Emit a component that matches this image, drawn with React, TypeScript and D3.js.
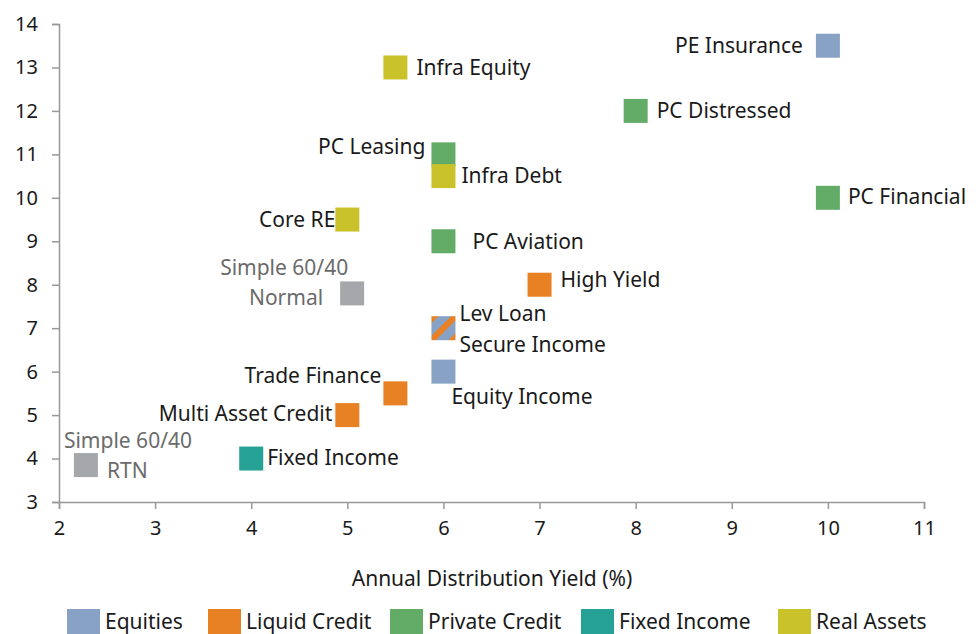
import { useEffect, useRef } from 'react';
import * as d3 from 'd3';

const categories = ['Equities', 'Liquid Credit', 'Private Credit', 'Fixed Income', 'Real Assets'];
const categoryColors = ['#87a2c4', '#e88024', '#63ac67', '#26a196', '#c9c22a'];
const benchmarkColor = '#a6a7aa';

const assetNames = [
  'PE Insurance', 'Infra Equity', 'PC Distressed', 'PC Leasing', 'Infra Debt', 'PC Financial',
  'Core RE', 'PC Aviation', 'High Yield', 'Lev Loan', 'Equity Income', 'Trade Finance',
  'Multi Asset Credit', 'Fixed Income',
];
const assetYield = [10, 5.5, 8, 6, 6, 10, 5, 6, 7, 6, 6, 5.5, 5, 4];
const assetReturn = [13.5, 13, 12, 11, 10.5, 10, 9.5, 9, 8, 7, 6, 5.5, 5, 4];
const assetCategory = [
  'Equities', 'Real Assets', 'Private Credit', 'Private Credit', 'Real Assets', 'Private Credit',
  'Real Assets', 'Private Credit', 'Liquid Credit', 'Liquid Credit', 'Equities', 'Liquid Credit',
  'Liquid Credit', 'Fixed Income',
];

const benchmarkNames = ['Simple 60/40 Normal', 'Simple 60/40 RTN'];
const benchmarkYield = [5.05, 2.28];
const benchmarkReturn = [7.8, 3.85];

const xTicks = [2, 3, 4, 5, 6, 7, 8, 9, 10, 11];
const yTicks = [3, 4, 5, 6, 7, 8, 9, 10, 11, 12, 13, 14];

// label placement relative to the marker centre: [dx, dy, anchor, line]
const labelLayout: Record<string, [number, number, string, string?][]> = {
  'PE Insurance': [[-25, 0, 'end']],
  'Infra Equity': [[21, 0, 'start']],
  'PC Distressed': [[21, 0, 'start']],
  'PC Leasing': [[-18, -8, 'end']],
  'Infra Debt': [[18, 0, 'start']],
  'PC Financial': [[20, -1, 'start']],
  'Core RE': [[-12, 0, 'end']],
  'PC Aviation': [[29, 0, 'start']],
  'High Yield': [[21, -5, 'start']],
  'Lev Loan': [[16, -15, 'start'], [16, 16, 'start', 'Secure Income']],
  'Equity Income': [[8, 25, 'start']],
  'Trade Finance': [[-14, -18, 'end']],
  'Multi Asset Credit': [[-15, -1, 'end']],
  'Fixed Income': [[16, -1, 'start']],
  'Simple 60/40 Normal': [[-132, -26, 'start', 'Simple 60/40'], [-29, 4, 'end', 'Normal']],
  'Simple 60/40 RTN': [[-22, -24, 'start', 'Simple 60/40'], [21, 6, 'start', 'RTN']],
};

const FONT = '"Noto Sans", sans-serif';
const FS = '21px';

export default function App() {
  const svgRef = useRef<SVGSVGElement>(null);
  const width = 976;
  const height = 634;

  useEffect(() => {
    if (!svgRef.current) return;
    const svg = d3.select(svgRef.current);
    svg.selectAll('*').remove();

    const x = d3.scaleLinear().domain([2, 11]).range([59, 924]);
    const y = d3.scaleLinear().domain([3, 14]).range([502, 24]);
    const color = d3.scaleOrdinal<string, string>().domain(categories).range(categoryColors);
    const size = 24;

    const defs = svg.append('defs');
    const pat = defs
      .append('pattern')
      .attr('id', 'levloan')
      .attr('patternUnits', 'userSpaceOnUse')
      .attr('width', 15)
      .attr('height', 15)
      .attr('patternTransform', `translate(${x(6)},${y(7)}) rotate(45)`);
    pat.append('rect').attr('width', 15).attr('height', 15).attr('fill', color('Equities'));
    pat.append('rect').attr('x', -3).attr('width', 6).attr('height', 15).attr('fill', color('Liquid Credit'));
    pat.append('rect').attr('x', 12).attr('width', 6).attr('height', 15).attr('fill', color('Liquid Credit'));

    // axes
    const xAxis = svg
      .append('g')
      .attr('transform', `translate(0,${y(3)})`)
      .call(d3.axisBottom(x).tickValues(xTicks).tickSize(7).tickPadding(12));
    const yAxis = svg
      .append('g')
      .attr('transform', `translate(${x(2)},0)`)
      .call(d3.axisLeft(y).tickValues(yTicks).tickSize(7).tickPadding(14));
    [xAxis, yAxis].forEach((a) => {
      a.selectAll('path, line').attr('stroke', '#999').attr('stroke-width', 1.5);
      a.selectAll('text')
        .attr('fill', '#1a1a1a')
        .style('font-family', FONT)
        .style('font-size', '20px');
    });

    svg
      .append('text')
      .attr('x', 492)
      .attr('y', 586)
      .attr('text-anchor', 'middle')
      .attr('fill', '#1a1a1a')
      .style('font-family', FONT)
      .style('font-size', FS)
      .text('Annual Distribution Yield (%)');

    const points = [
      ...assetNames.map((name, i) => ({
        name,
        x: assetYield[i],
        y: assetReturn[i],
        fill: name === 'Lev Loan' ? 'url(#levloan)' : color(assetCategory[i]),
        benchmark: false,
      })),
      ...benchmarkNames.map((name, i) => ({
        name,
        x: benchmarkYield[i],
        y: benchmarkReturn[i],
        fill: benchmarkColor,
        benchmark: true,
      })),
    ];

    svg
      .append('g')
      .selectAll('rect')
      .data(points)
      .enter()
      .append('rect')
      .attr('x', (d) => x(d.x) - size / 2)
      .attr('y', (d) => y(d.y) - size / 2)
      .attr('width', size)
      .attr('height', size)
      .attr('fill', (d) => d.fill);

    const labels = points.flatMap((d) =>
      (labelLayout[d.name] || []).map(([dx, dy, anchor, text]) => ({
        x: x(d.x) + dx,
        y: y(d.y) + dy,
        anchor,
        text: text || d.name,
        benchmark: d.benchmark,
      }))
    );

    svg
      .append('g')
      .selectAll('text')
      .data(labels)
      .enter()
      .append('text')
      .attr('x', (d) => d.x)
      .attr('y', (d) => d.y)
      .attr('dy', '0.35em')
      .attr('text-anchor', (d) => d.anchor)
      .attr('fill', (d) => (d.benchmark ? '#6b6b6b' : '#1a1a1a'))
      .style('font-family', FONT)
      .style('font-size', FS)
      .text((d) => d.text);

    // legend
    const legendX = [67, 208, 390, 581, 778];
    const legend = svg
      .append('g')
      .selectAll('g')
      .data(categories)
      .enter()
      .append('g')
      .attr('transform', (_, i) => `translate(${legendX[i]},609)`);
    legend.append('rect').attr('width', 33).attr('height', 25).attr('fill', (d) => color(d));
    legend
      .append('text')
      .attr('x', 38)
      .attr('y', 13)
      .attr('dy', '0.35em')
      .attr('fill', '#1a1a1a')
      .style('font-family', FONT)
      .style('font-size', FS)
      .text((d) => d);
  }, []);

  return (
    <svg
      ref={svgRef}
      width={width}
      height={height}
      style={{ position: 'absolute', left: 0, top: 0, background: '#fff' }}
    />
  );
}
